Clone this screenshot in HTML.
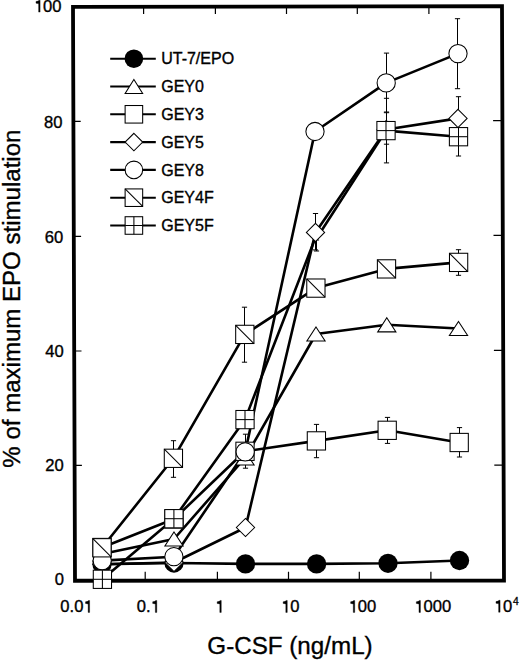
<!DOCTYPE html>
<html><head><meta charset="utf-8"><style>
html,body{margin:0;padding:0;background:#fff;}
body{width:520px;height:661px;overflow:hidden;}
svg{display:block;}
text{font-family:"Liberation Sans",sans-serif;fill:#000;stroke:#000;stroke-width:0.35px;}
.tk{font-size:16.6px;}
.sup{font-size:10.3px;}
.lg{font-size:16px;}
.ti{font-size:24.2px;}
</style></head><body>
<svg width="520" height="661" viewBox="0 0 520 661">
<rect width="520" height="661" fill="#fff"/>
<path d="M73.40 121.3H80.70M73.80 236.3H81.10M74.20 351.0H81.50M74.60 465.4H81.90M502.40 120.6H493.10M502.80 235.4H493.50M503.20 350.3H493.90M503.60 465.1H494.30M143.6 6.78V13.9M215.4 6.65V13.9M286.5 6.53V13.9M357.3 6.40V13.9M428.9 6.28V13.9M145.2 580.7V571.7M217.4 580.7V571.7M288.5 580.7V571.7M359.3 580.7V571.7M430.9 580.7V571.7" stroke="#000" stroke-width="1.2" fill="none"/>
<path d="M73 6.9 L502 6.15 L504 580.65 L75 580.75 Z" fill="none" stroke="#000" stroke-width="3.8" stroke-linejoin="miter"/>
<path d="M102.0,564.3 L174.0,563.0 L245.5,563.9 L316.6,563.9 L388.0,563.3 L459.5,560.5" fill="none" stroke="#000" stroke-width="2.6" stroke-linejoin="round"/>
<path d="M102.0,554.0 L174.0,539.0 L245.0,458.0 L316.0,334.0 L386.8,324.8 L458.5,328.5" fill="none" stroke="#000" stroke-width="2.6" stroke-linejoin="round"/>
<path d="M102.0,547.5 L174.0,519.0 L245.0,451.3 L316.4,440.9 L387.2,430.3 L459.2,442.5" fill="none" stroke="#000" stroke-width="2.6" stroke-linejoin="round"/>
<path d="M102.0,564.3 L174.0,562.5 L245.5,527.5 L315.5,232.4 L386.2,129.5 L458.0,118.4" fill="none" stroke="#000" stroke-width="2.6" stroke-linejoin="round"/>
<path d="M102.2,560.6 L173.9,556.7 L245.2,451.9 L315.0,131.5 L386.2,82.9 L458.0,53.6" fill="none" stroke="#000" stroke-width="2.6" stroke-linejoin="round"/>
<path d="M102.0,547.8 L173.4,458.3 L244.8,334.4 L315.9,288.1 L386.5,268.9 L458.6,262.4" fill="none" stroke="#000" stroke-width="2.6" stroke-linejoin="round"/>
<path d="M102.4,579.3 L173.9,518.7 L245.0,419.6 L315.3,238.0 L320.0,233.0 L386.0,130.6 L458.5,136.7" fill="none" stroke="#000" stroke-width="2.6" stroke-linejoin="round"/>
<path d="M173.5 440.7V477.3M170.90 440.7H176.10M170.90 477.3H176.10M244.5 307.2V362.2M241.90 307.2H247.10M241.90 362.2H247.10M458.5 249.7V275.3M455.90 249.7H461.10M455.90 275.3H461.10M245.5 434.2V468.2M242.90 434.2H248.10M242.90 468.2H248.10M316.5 424.4V457.7M313.90 424.4H319.10M313.90 457.7H319.10M387.5 417.4V443.4M384.90 417.4H390.10M384.90 443.4H390.10M459.5 427.6V457.0M456.90 427.6H462.10M456.90 457.0H462.10M315.5 213.5V249.9M312.90 213.5H318.10M312.90 249.9H318.10M316.5 240.0V251.0M313.90 240.0H319.10M313.90 251.0H319.10M386.5 53.1V112.7M383.90 53.1H389.10M383.90 112.7H389.10M457.5 18.7V88.7M454.90 18.7H460.10M454.90 88.7H460.10M386.5 98.3V162.9M383.90 98.3H389.10M383.90 162.9H389.10M386.5 112.0V144.2M383.90 112.0H389.10M383.90 144.2H389.10M458.5 96.7V140.0M455.90 96.7H461.10M455.90 140.0H461.10M458.5 117.4V156.0M455.90 117.4H461.10M455.90 156.0H461.10" stroke="#000" stroke-width="1" fill="none"/>
<circle cx="102.0" cy="564.3" r="9.65" fill="#000"/>
<circle cx="174.0" cy="563.0" r="9.65" fill="#000"/>
<circle cx="245.5" cy="563.9" r="9.65" fill="#000"/>
<circle cx="316.6" cy="563.9" r="9.65" fill="#000"/>
<circle cx="388.0" cy="563.3" r="9.65" fill="#000"/>
<circle cx="459.5" cy="560.5" r="9.65" fill="#000"/>
<polygon points="102.0,546.92 111.12,561.08 92.88,561.08" fill="#fff" stroke="#000" stroke-width="1.05" stroke-linejoin="miter"/>
<polygon points="174.0,531.92 183.12,546.08 164.88,546.08" fill="#fff" stroke="#000" stroke-width="1.05" stroke-linejoin="miter"/>
<polygon points="245.0,450.93 254.12,465.07 235.88,465.07" fill="#fff" stroke="#000" stroke-width="1.05" stroke-linejoin="miter"/>
<polygon points="316.0,326.93 325.12,341.07 306.88,341.07" fill="#fff" stroke="#000" stroke-width="1.05" stroke-linejoin="miter"/>
<polygon points="386.8,317.73 395.93,331.88 377.68,331.88" fill="#fff" stroke="#000" stroke-width="1.05" stroke-linejoin="miter"/>
<polygon points="458.5,321.43 467.62,335.57 449.38,335.57" fill="#fff" stroke="#000" stroke-width="1.05" stroke-linejoin="miter"/>
<rect x="92.88" y="538.38" width="18.25" height="18.25" fill="#fff" stroke="#000" stroke-width="1.05"/>
<rect x="164.88" y="509.88" width="18.25" height="18.25" fill="#fff" stroke="#000" stroke-width="1.05"/>
<rect x="235.88" y="442.18" width="18.25" height="18.25" fill="#fff" stroke="#000" stroke-width="1.05"/>
<rect x="307.27" y="431.77" width="18.25" height="18.25" fill="#fff" stroke="#000" stroke-width="1.05"/>
<rect x="378.07" y="421.18" width="18.25" height="18.25" fill="#fff" stroke="#000" stroke-width="1.05"/>
<rect x="450.07" y="433.38" width="18.25" height="18.25" fill="#fff" stroke="#000" stroke-width="1.05"/>
<polygon points="102.0,555.17 111.12,564.3 102.0,573.42 92.88,564.3" fill="#fff" stroke="#000" stroke-width="1.05"/>
<polygon points="174.0,553.38 183.12,562.5 174.0,571.62 164.88,562.5" fill="#fff" stroke="#000" stroke-width="1.05"/>
<polygon points="245.5,518.38 254.62,527.5 245.5,536.62 236.38,527.5" fill="#fff" stroke="#000" stroke-width="1.05"/>
<polygon points="315.5,223.28 324.62,232.4 315.5,241.53 306.38,232.4" fill="#fff" stroke="#000" stroke-width="1.05"/>
<polygon points="386.2,120.38 395.32,129.5 386.2,138.62 377.07,129.5" fill="#fff" stroke="#000" stroke-width="1.05"/>
<polygon points="458.0,109.28 467.12,118.4 458.0,127.53 448.88,118.4" fill="#fff" stroke="#000" stroke-width="1.05"/>
<circle cx="102.2" cy="560.6" r="9.12" fill="#fff" stroke="#000" stroke-width="1.05"/>
<circle cx="173.9" cy="556.7" r="9.12" fill="#fff" stroke="#000" stroke-width="1.05"/>
<circle cx="245.2" cy="451.9" r="9.12" fill="#fff" stroke="#000" stroke-width="1.05"/>
<circle cx="315.0" cy="131.5" r="9.12" fill="#fff" stroke="#000" stroke-width="1.05"/>
<circle cx="386.2" cy="82.9" r="9.12" fill="#fff" stroke="#000" stroke-width="1.05"/>
<circle cx="458.0" cy="53.6" r="9.12" fill="#fff" stroke="#000" stroke-width="1.05"/>
<rect x="92.88" y="538.67" width="18.25" height="18.25" fill="#fff" stroke="#000" stroke-width="1.05"/><line x1="92.88" y1="538.67" x2="111.12" y2="556.92" stroke="#000" stroke-width="1.05"/>
<rect x="164.28" y="449.18" width="18.25" height="18.25" fill="#fff" stroke="#000" stroke-width="1.05"/><line x1="164.28" y1="449.18" x2="182.53" y2="467.43" stroke="#000" stroke-width="1.05"/>
<rect x="235.68" y="325.27" width="18.25" height="18.25" fill="#fff" stroke="#000" stroke-width="1.05"/><line x1="235.68" y1="325.27" x2="253.93" y2="343.52" stroke="#000" stroke-width="1.05"/>
<rect x="306.77" y="278.98" width="18.25" height="18.25" fill="#fff" stroke="#000" stroke-width="1.05"/><line x1="306.77" y1="278.98" x2="325.02" y2="297.23" stroke="#000" stroke-width="1.05"/>
<rect x="377.38" y="259.77" width="18.25" height="18.25" fill="#fff" stroke="#000" stroke-width="1.05"/><line x1="377.38" y1="259.77" x2="395.62" y2="278.02" stroke="#000" stroke-width="1.05"/>
<rect x="449.48" y="253.27" width="18.25" height="18.25" fill="#fff" stroke="#000" stroke-width="1.05"/><line x1="449.48" y1="253.27" x2="467.73" y2="271.52" stroke="#000" stroke-width="1.05"/>
<rect x="93.28" y="570.17" width="18.25" height="18.25" fill="#fff" stroke="#000" stroke-width="1.05"/><line x1="93.28" y1="579.3" x2="111.53" y2="579.3" stroke="#000" stroke-width="1.05"/><line x1="102.4" y1="570.17" x2="102.4" y2="588.42" stroke="#000" stroke-width="1.05"/>
<rect x="164.78" y="509.58" width="18.25" height="18.25" fill="#fff" stroke="#000" stroke-width="1.05"/><line x1="164.78" y1="518.7" x2="183.03" y2="518.7" stroke="#000" stroke-width="1.05"/><line x1="173.9" y1="509.58" x2="173.9" y2="527.83" stroke="#000" stroke-width="1.05"/>
<rect x="235.88" y="410.48" width="18.25" height="18.25" fill="#fff" stroke="#000" stroke-width="1.05"/><line x1="235.88" y1="419.6" x2="254.12" y2="419.6" stroke="#000" stroke-width="1.05"/><line x1="245.0" y1="410.48" x2="245.0" y2="428.73" stroke="#000" stroke-width="1.05"/>
<rect x="376.88" y="121.47" width="18.25" height="18.25" fill="#fff" stroke="#000" stroke-width="1.05"/><line x1="376.88" y1="130.6" x2="395.12" y2="130.6" stroke="#000" stroke-width="1.05"/><line x1="386.0" y1="121.47" x2="386.0" y2="139.72" stroke="#000" stroke-width="1.05"/>
<rect x="449.38" y="127.57" width="18.25" height="18.25" fill="#fff" stroke="#000" stroke-width="1.05"/><line x1="449.38" y1="136.7" x2="467.62" y2="136.7" stroke="#000" stroke-width="1.05"/><line x1="458.5" y1="127.57" x2="458.5" y2="145.82" stroke="#000" stroke-width="1.05"/>
<path d="M110.2 58.7H155.8" stroke="#000" stroke-width="2.1"/>
<circle cx="133.9" cy="58.7" r="9.30" fill="#000"/>
<text x="161.2" y="64.40" class="lg">UT-7/EPO</text>
<path d="M110.2 86.5H155.8" stroke="#000" stroke-width="2.1"/>
<polygon points="133.9,79.42 142.68,93.58 125.12,93.58" fill="#fff" stroke="#000" stroke-width="1.05" stroke-linejoin="miter"/>
<text x="161.2" y="92.20" class="lg">GEY0</text>
<path d="M110.2 114.3H155.8" stroke="#000" stroke-width="2.1"/>
<rect x="125.12" y="105.52" width="17.55" height="17.55" fill="#fff" stroke="#000" stroke-width="1.05"/>
<text x="161.2" y="120.00" class="lg">GEY3</text>
<path d="M110.2 142.1H155.8" stroke="#000" stroke-width="2.1"/>
<polygon points="133.9,133.32 142.68,142.1 133.9,150.88 125.12,142.1" fill="#fff" stroke="#000" stroke-width="1.05"/>
<text x="161.2" y="147.80" class="lg">GEY5</text>
<path d="M110.2 169.9H155.8" stroke="#000" stroke-width="2.1"/>
<circle cx="133.9" cy="169.9" r="8.78" fill="#fff" stroke="#000" stroke-width="1.05"/>
<text x="161.2" y="175.60" class="lg">GEY8</text>
<path d="M110.2 197.7H155.8" stroke="#000" stroke-width="2.1"/>
<rect x="125.12" y="188.92" width="17.55" height="17.55" fill="#fff" stroke="#000" stroke-width="1.05"/><line x1="125.12" y1="188.92" x2="142.68" y2="206.47" stroke="#000" stroke-width="1.05"/>
<text x="161.2" y="203.40" class="lg">GEY4F</text>
<path d="M110.2 225.5H155.8" stroke="#000" stroke-width="2.1"/>
<rect x="125.12" y="216.72" width="17.55" height="17.55" fill="#fff" stroke="#000" stroke-width="1.05"/><line x1="125.12" y1="225.5" x2="142.68" y2="225.5" stroke="#000" stroke-width="1.05"/><line x1="133.9" y1="216.72" x2="133.9" y2="234.28" stroke="#000" stroke-width="1.05"/>
<text x="161.2" y="231.20" class="lg">GEY5F</text>
<text x="33.90" y="12.1" class="tk">&#x2007;00</text><path d="M40.10 12.10L38.63 12.10L38.63 3.72Q37.47 3.27 35.98 3.17L35.98 1.48Q38.47 1.31 39.05 0.21L40.10 0.21Z" fill="#000" stroke="#000" stroke-width="0.35"/>
<text x="43.94" y="127.5" class="tk">80</text>
<text x="44.74" y="242.5" class="tk">60</text>
<text x="45.24" y="356.8" class="tk">40</text>
<text x="45.34" y="470.6" class="tk">20</text>
<text x="54.77" y="584.6" class="tk">0</text>
<text x="60.35" y="612.4" class="tk">0.0&#x2007;</text><path d="M89.61 612.40L88.15 612.40L88.15 604.02Q86.99 603.57 85.50 603.47L85.50 601.78Q87.99 601.61 88.57 600.51L89.61 600.51Z" fill="#000" stroke="#000" stroke-width="0.35"/>
<text x="136.76" y="612.4" class="tk">0.&#x2007;</text><path d="M156.80 612.40L155.34 612.40L155.34 604.02Q154.18 603.57 152.68 603.47L152.68 601.78Q155.17 601.61 155.75 600.51L156.80 600.51Z" fill="#000" stroke="#000" stroke-width="0.35"/>
<text x="215.08" y="612.4" class="tk">&#x2007;</text><path d="M221.28 612.40L219.81 612.40L219.81 604.02Q218.65 603.57 217.16 603.47L217.16 601.78Q219.65 601.61 220.23 600.51L221.28 600.51Z" fill="#000" stroke="#000" stroke-width="0.35"/>
<text x="281.07" y="612.4" class="tk">&#x2007;0</text><path d="M287.26 612.40L285.80 612.40L285.80 604.02Q284.64 603.57 283.14 603.47L283.14 601.78Q285.63 601.61 286.21 600.51L287.26 600.51Z" fill="#000" stroke="#000" stroke-width="0.35"/>
<text x="348.55" y="612.4" class="tk">&#x2007;00</text><path d="M354.74 612.40L353.28 612.40L353.28 604.02Q352.12 603.57 350.63 603.47L350.63 601.78Q353.12 601.61 353.70 600.51L354.74 600.51Z" fill="#000" stroke="#000" stroke-width="0.35"/>
<text x="414.24" y="612.4" class="tk">&#x2007;000</text><path d="M420.43 612.40L418.97 612.40L418.97 604.02Q417.80 603.57 416.31 603.47L416.31 601.78Q418.80 601.61 419.38 600.51L420.43 600.51Z" fill="#000" stroke="#000" stroke-width="0.35"/>
<text x="493.90" y="612.2" class="tk">&#x2007;0</text><path d="M500.09 612.20L498.63 612.20L498.63 603.82Q497.47 603.37 495.97 603.27L495.97 601.58Q498.46 601.41 499.05 600.31L500.09 600.31Z" fill="#000" stroke="#000" stroke-width="0.35"/>
<text x="513.0" y="604.6" class="sup">4</text>
<text x="290" y="654" class="ti" text-anchor="middle">G-CSF (ng/mL)</text>
<text transform="translate(20.3 298.6) rotate(-90)" class="ti" style="font-size:24.05px" text-anchor="middle">% of maximum EPO stimulation</text>
</svg>
</body></html>
